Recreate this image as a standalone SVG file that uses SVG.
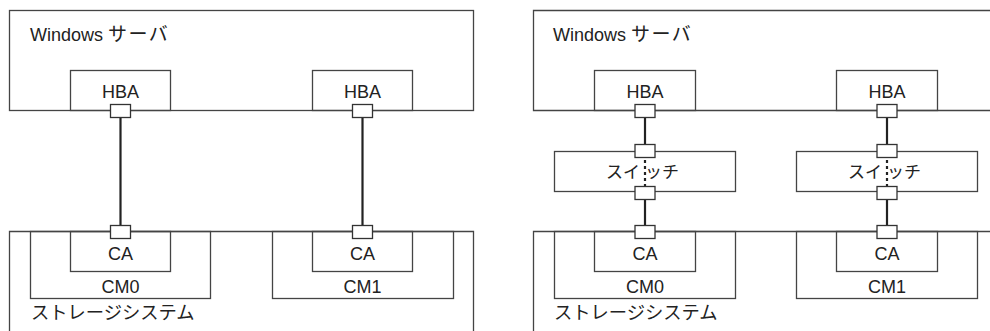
<svg xmlns="http://www.w3.org/2000/svg" width="990" height="331" viewBox="0 0 990 331">
<style>
.box{fill:none;stroke:#444;stroke-width:1.3}
.port{fill:#fff;stroke:#333;stroke-width:1.3}
.ln{stroke:#222;stroke-width:2.2;fill:none}
.dl{stroke:#222;stroke-width:2.2;fill:none;stroke-dasharray:3 3}
text{font-family:"Liberation Sans","Noto Sans CJK JP",sans-serif;font-size:18px;fill:#222}
.m{text-anchor:middle}
.j{font-size:19px;letter-spacing:1.5px}
.s{font-size:18.3px}
.w{font-size:17px}
</style>
<rect width="990" height="331" fill="#fff"/>

<!-- Left panel -->
<g id="server-left">
<rect class="box" x="9.5" y="10.5" width="464" height="100"/>
<text x="30" y="41">Windows <tspan class="j" x="108">サーバ</tspan></text>
</g>
<g id="storage-left">
<path class="box" d="M9.5,331 V231.5 H473.5 V331"/>
<text class="s" x="31" y="319">ストレージシステム</text>
</g>
<g id="cm0-left">
<rect class="box" x="30.5" y="231.5" width="180" height="67"/>
<text class="m" x="120.5" y="292.5">CM0</text>
</g>
<g id="cm1-left">
<rect class="box" x="272.5" y="231.5" width="181" height="67"/>
<text class="m" x="362.5" y="292.5">CM1</text>
</g>
<g id="hba1-left">
<rect class="box" x="70.5" y="70.5" width="100" height="40"/>
<text class="m" x="120.5" y="97.5">HBA</text>
</g>
<g id="hba2-left">
<rect class="box" x="312.5" y="70.5" width="100" height="40"/>
<text class="m" x="362.5" y="97.5">HBA</text>
</g>
<g id="ca0-left">
<rect class="box" x="70.5" y="231.5" width="100" height="40"/>
<text class="m" x="120.5" y="260">CA</text>
</g>
<g id="ca1-left">
<rect class="box" x="312.5" y="231.5" width="100" height="40"/>
<text class="m" x="362.5" y="260">CA</text>
</g>

<!-- Right panel -->
<g id="server-right">
<path class="box" d="M990,10.5 H533.5 V110.5 H990"/>
<text x="553" y="41">Windows <tspan class="j" x="631">サーバ</tspan></text>
</g>
<g id="storage-right">
<path class="box" d="M533.5,331 V231.5 H990"/>
<text class="s" x="554" y="319">ストレージシステム</text>
</g>
<g id="cm0-right">
<rect class="box" x="554.5" y="231.5" width="181" height="67"/>
<text class="m" x="645" y="292.5">CM0</text>
</g>
<g id="cm1-right">
<rect class="box" x="796.5" y="231.5" width="181" height="67"/>
<text class="m" x="887" y="292.5">CM1</text>
</g>
<g id="hba1-right">
<rect class="box" x="594.5" y="70.5" width="101" height="40"/>
<text class="m" x="645" y="97.5">HBA</text>
</g>
<g id="hba2-right">
<rect class="box" x="836.5" y="70.5" width="101" height="40"/>
<text class="m" x="887" y="97.5">HBA</text>
</g>
<g id="switch1">
<rect class="box" x="554.5" y="151.5" width="181" height="40"/>
<text class="w" x="606" y="178">スイ<tspan dx="5">ッチ</tspan></text>
</g>
<g id="switch2">
<rect class="box" x="796.5" y="151.5" width="181" height="40"/>
<text class="w" x="848" y="178">スイ<tspan dx="5">ッチ</tspan></text>
</g>
<g id="ca0-right">
<rect class="box" x="594.5" y="231.5" width="101" height="40"/>
<text class="m" x="645" y="260">CA</text>
</g>
<g id="ca1-right">
<rect class="box" x="836.5" y="231.5" width="101" height="40"/>
<text class="m" x="887" y="260">CA</text>
</g>

<g id="connectors">
<line class="ln" x1="120.5" y1="117" x2="120.5" y2="225"/>
<line class="ln" x1="362.5" y1="117" x2="362.5" y2="225"/>
<line class="ln" x1="645" y1="117" x2="645" y2="144"/>
<line class="dl" x1="645" y1="160" x2="645" y2="186"/>
<line class="ln" x1="645" y1="199" x2="645" y2="225"/>
<line class="ln" x1="887" y1="117" x2="887" y2="144"/>
<line class="dl" x1="887" y1="160" x2="887" y2="186"/>
<line class="ln" x1="887" y1="199" x2="887" y2="225"/>
</g>

<g id="ports">
<rect class="port" x="110.5" y="104.5" width="20" height="13"/>
<rect class="port" x="110.5" y="225.5" width="20" height="13"/>
<rect class="port" x="352.5" y="104.5" width="20" height="13"/>
<rect class="port" x="352.5" y="225.5" width="20" height="13"/>
<rect class="port" x="635" y="104.5" width="20" height="13"/>
<rect class="port" x="635" y="144.5" width="20" height="13"/>
<rect class="port" x="635" y="186.5" width="20" height="13"/>
<rect class="port" x="635" y="225.5" width="20" height="13"/>
<rect class="port" x="877" y="104.5" width="20" height="13"/>
<rect class="port" x="877" y="144.5" width="20" height="13"/>
<rect class="port" x="877" y="186.5" width="20" height="13"/>
<rect class="port" x="877" y="225.5" width="20" height="13"/>
</g>
</svg>
